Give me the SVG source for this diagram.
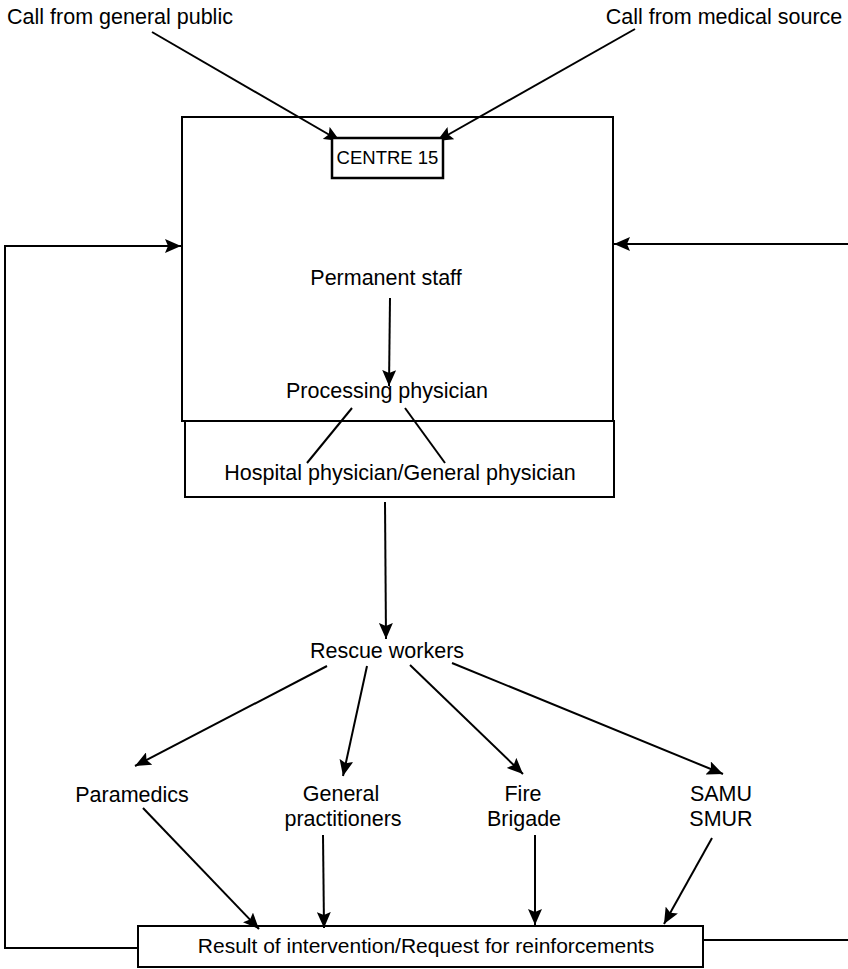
<svg xmlns="http://www.w3.org/2000/svg" width="848" height="969" viewBox="0 0 848 969">
<style>
text{font-family:"Liberation Sans",Arial,sans-serif;fill:#000;text-anchor:middle}
.t{font-size:21.5px}
.box{fill:none;stroke:#000;stroke-width:2}
.c{fill:none;stroke:#000;stroke-width:2}
.a{marker-end:url(#ah)}
</style>
<defs>
<marker id="ah" markerUnits="userSpaceOnUse" markerWidth="18" markerHeight="14" refX="16" refY="7" orient="auto">
<path d="M0,0 L16,7 L0,14 L3,7 Z" fill="#000"/>
</marker>
</defs>
<rect width="848" height="969" fill="#fff"/>
<g id="connectors">
<line class="c a" x1="152" y1="32" x2="340" y2="141"/>
<line class="c a" x1="635" y1="29" x2="437" y2="141"/>
<line class="c a" x1="390" y1="298" x2="389" y2="386"/>
<line class="c" x1="352" y1="408" x2="307" y2="463"/>
<line class="c" x1="405" y1="408" x2="445" y2="463"/>
<line class="c a" x1="385" y1="502" x2="386" y2="639"/>
<line class="c a" x1="327" y1="666" x2="135" y2="766"/>
<line class="c a" x1="367" y1="666" x2="343" y2="776"/>
<line class="c a" x1="410" y1="665" x2="523" y2="774"/>
<line class="c a" x1="452" y1="663" x2="723" y2="774"/>
<line class="c a" x1="143" y1="808" x2="259" y2="929"/>
<line class="c a" x1="323" y1="835" x2="324" y2="928"/>
<line class="c a" x1="535" y1="835" x2="535" y2="925"/>
<line class="c a" x1="712" y1="838" x2="664" y2="924"/>
<polyline class="c" points="138,948 5,948 5,246 181,246" style="marker-end:url(#ah)"/>
<line class="c a" x1="848" y1="244" x2="614" y2="244"/>
<line class="c" x1="703" y1="940" x2="848" y2="940"/>
</g>
<g id="call-public"><text class="t" x="120" y="24">Call from general public</text></g>
<g id="call-medical"><text class="t" x="724" y="24">Call from medical source</text></g>
<g id="main-box"><rect class="box" x="182" y="117" width="431" height="304"/></g>
<g id="physician-box"><rect class="box" x="185" y="421" width="429" height="76"/></g>
<g id="centre15"><rect x="332" y="138" width="111" height="40" fill="#fff" stroke="#000" stroke-width="2.5"/><text x="387.5" y="164" style="font-size:18.5px">CENTRE 15</text></g>
<g id="permanent-staff"><text class="t" x="386" y="285">Permanent staff</text></g>
<g id="processing-physician"><text class="t" x="387" y="398">Processing physician</text></g>
<g id="hospital-physician"><text class="t" x="400" y="480">Hospital physician/General physician</text></g>
<g id="rescue-workers"><text class="t" x="387" y="658">Rescue workers</text></g>
<g id="paramedics"><text class="t" x="132" y="802">Paramedics</text></g>
<g id="general-practitioners"><text class="t" x="341" y="801">General</text><text class="t" x="343" y="826">practitioners</text></g>
<g id="fire-brigade"><text class="t" x="523" y="801">Fire</text><text class="t" x="524" y="826">Brigade</text></g>
<g id="samu-smur"><text class="t" x="721" y="801">SAMU</text><text class="t" x="721" y="826">SMUR</text></g>
<g id="result"><rect class="box" x="138" y="926" width="565" height="41"/><text x="426" y="953" style="font-size:21px">Result of intervention/Request for reinforcements</text></g>
</svg>
